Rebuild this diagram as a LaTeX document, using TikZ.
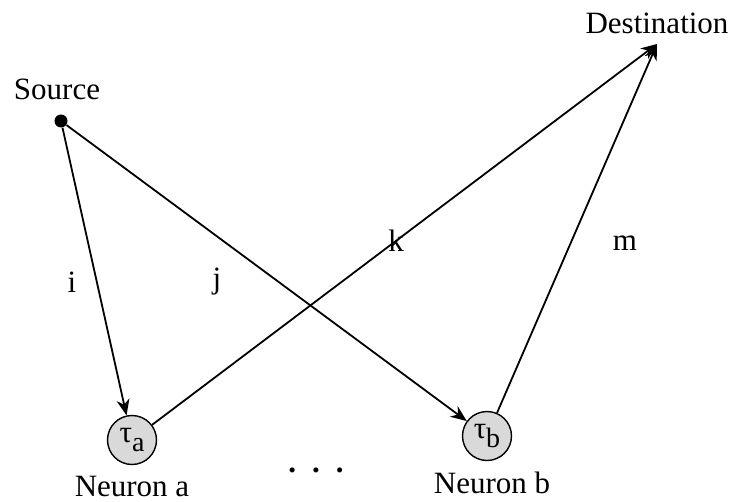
\documentclass[tikz,border=0pt]{standalone}
\usepackage{fontspec}
\setmainfont{Liberation Serif}
\usetikzlibrary{arrows.meta}
\definecolor{cellgray}{HTML}{D9D9D9}

\begin{document}
\begin{tikzpicture}[x=0.5pt, y=-0.5pt, font=\fontsize{15.5}{18}\selectfont,
  neuron/.style={circle, draw, line width=0.7pt, fill=cellgray, minimum size=24.5pt, inner sep=0pt},
  link/.style={line width=0.9pt, -{Stealth[length=8pt,width=6.5pt,inset=2.5pt]}}]
\useasboundingbox (0,0) rectangle (732,502);

% source and destination
\node[circle, fill, inner sep=0pt, minimum size=6.5pt] (src) at (61,121) {};
\node (srclabel) at (57,89) {Source};
\coordinate (dst) at (657,44);
\node (dstlabel) at (657,23) {Destination};

% neurons
\node[neuron] (na) at (132,440) {τ\raisebox{-4.5pt}{\fontsize{14}{14}\selectfont a}};
\node[neuron] (nb) at (487,436) {τ\raisebox{-4.5pt}{\fontsize{14}{14}\selectfont b}};
\node[anchor=base, inner sep=0pt] (nalabel) at (132,496) {Neuron a};
\node[anchor=base, inner sep=0pt] (nblabel) at (492,493) {Neuron b};
\node[anchor=base] (dots) at (316,472) {\textbf{.}\hspace{8pt}\textbf{.}\hspace{8pt}\textbf{.}};

% links
\draw[link] (src) -- (na);
\draw[link] (src) -- (nb);
\draw[link] (na) -- (dst);
\draw[link] (nb) -- (dst);

\node (li) at (72,282) {i};
\node (lj) at (217,282) {j};
\node (lk) at (396,241) {k};
\node (lm) at (625,243) {m};
\end{tikzpicture}
\end{document}
